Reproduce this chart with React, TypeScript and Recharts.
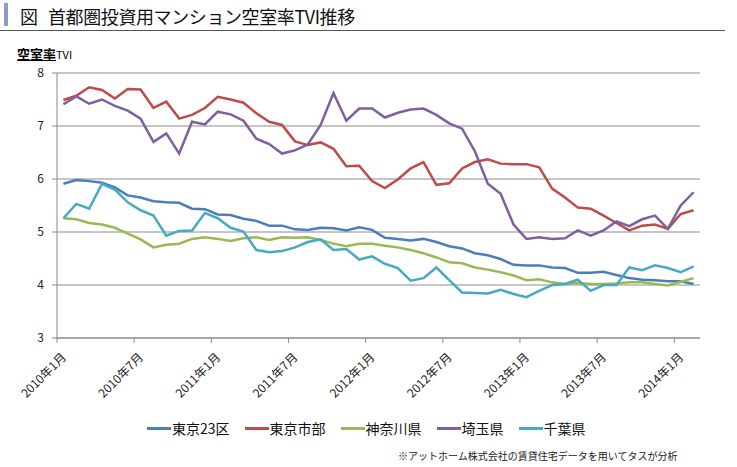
import React from 'react';
import { LineChart, Line, XAxis, YAxis, CartesianGrid } from 'recharts';

const months: string[] = [
  '2010年1月', '2010年2月', '2010年3月', '2010年4月', '2010年5月', '2010年6月',
  '2010年7月', '2010年8月', '2010年9月', '2010年10月', '2010年11月', '2010年12月',
  '2011年1月', '2011年2月', '2011年3月', '2011年4月', '2011年5月', '2011年6月',
  '2011年7月', '2011年8月', '2011年9月', '2011年10月', '2011年11月', '2011年12月',
  '2012年1月', '2012年2月', '2012年3月', '2012年4月', '2012年5月', '2012年6月',
  '2012年7月', '2012年8月', '2012年9月', '2012年10月', '2012年11月', '2012年12月',
  '2013年1月', '2013年2月', '2013年3月', '2013年4月', '2013年5月', '2013年6月',
  '2013年7月', '2013年8月', '2013年9月', '2013年10月', '2013年11月', '2013年12月',
  '2014年1月', '2014年2月',
];

const tickLabels: string[] = [
  '2010年1月', '2010年7月', '2011年1月', '2011年7月', '2012年1月',
  '2012年7月', '2013年1月', '2013年7月', '2014年1月',
];

const yTicks: number[] = [3, 4, 5, 6, 7, 8];

const tokyo23: number[] = [
  5.91, 5.98, 5.96, 5.93, 5.84, 5.69, 5.65, 5.58, 5.56, 5.55, 5.44, 5.43,
  5.33, 5.32, 5.25, 5.21, 5.12, 5.12, 5.05, 5.04, 5.08, 5.07, 5.03, 5.09,
  5.04, 4.89, 4.87, 4.84, 4.87, 4.81, 4.73, 4.69, 4.60, 4.56, 4.49, 4.38,
  4.37, 4.37, 4.33, 4.32, 4.23, 4.23, 4.25, 4.19, 4.13, 4.10, 4.09, 4.07,
  4.07, 4.02,
];

const tokyoShibu: number[] = [
  7.49, 7.57, 7.73, 7.68, 7.52, 7.70, 7.69, 7.34, 7.46, 7.14, 7.21, 7.34,
  7.55, 7.50, 7.44, 7.24, 7.08, 7.02, 6.71, 6.64, 6.69, 6.57, 6.24, 6.25,
  5.96, 5.83, 5.99, 6.20, 6.32, 5.89, 5.92, 6.20, 6.32, 6.37, 6.29, 6.28,
  6.28, 6.22, 5.82, 5.65, 5.46, 5.44, 5.31, 5.17, 5.03, 5.12, 5.14, 5.06,
  5.34, 5.41,
];

const kanagawa: number[] = [
  5.26, 5.24, 5.17, 5.14, 5.08, 4.97, 4.86, 4.71, 4.76, 4.78, 4.87, 4.90,
  4.87, 4.83, 4.88, 4.90, 4.85, 4.90, 4.89, 4.90, 4.85, 4.78, 4.73, 4.78,
  4.78, 4.74, 4.71, 4.66, 4.60, 4.52, 4.43, 4.41, 4.33, 4.29, 4.24, 4.18,
  4.09, 4.11, 4.05, 4.02, 4.04, 4.02, 4.02, 4.03, 4.05, 4.05, 4.02, 3.99,
  4.06, 4.13,
];

const saitama: number[] = [
  7.41, 7.56, 7.42, 7.50, 7.38, 7.29, 7.14, 6.70, 6.86, 6.48, 7.08, 7.03,
  7.27, 7.22, 7.10, 6.76, 6.66, 6.48, 6.54, 6.65, 7.02, 7.62, 7.10, 7.33,
  7.33, 7.16, 7.25, 7.31, 7.33, 7.21, 7.05, 6.95, 6.52, 5.91, 5.72, 5.14,
  4.87, 4.90, 4.87, 4.88, 5.03, 4.93, 5.03, 5.20, 5.11, 5.24, 5.31, 5.06,
  5.50, 5.75,
];

const chiba: number[] = [
  5.26, 5.53, 5.44, 5.91, 5.80, 5.56, 5.41, 5.31, 4.93, 5.02, 5.03, 5.36,
  5.26, 5.08, 5.01, 4.66, 4.62, 4.64, 4.71, 4.81, 4.86, 4.66, 4.68, 4.48,
  4.54, 4.40, 4.32, 4.08, 4.13, 4.33, 4.09, 3.86, 3.85, 3.84, 3.91, 3.83,
  3.77, 3.89, 4.00, 4.02, 4.10, 3.89, 4.00, 4.00, 4.33, 4.28, 4.37, 4.32,
  4.24, 4.35,
];

const series = [
  { key: 'tokyo23', name: '東京23区', color: '#4A7EBB', values: tokyo23 },
  { key: 'tokyoShibu', name: '東京市部', color: '#BE4B48', values: tokyoShibu },
  { key: 'kanagawa', name: '神奈川県', color: '#98B954', values: kanagawa },
  { key: 'saitama', name: '埼玉県', color: '#7D60A0', values: saitama },
  { key: 'chiba', name: '千葉県', color: '#46AAC5', values: chiba },
];

const data = months.map((m, i) => {
  const row: Record<string, string | number> = { month: m };
  series.forEach((s) => {
    row[s.key] = s.values[i];
  });
  return row;
});

const FONT = "'Noto Sans CJK JP', 'Noto Sans', sans-serif";
const HALF_STEP = 643 / months.length / 2;

const XTick = (props: any) => {
  const { x, y, payload } = props;
  const tx = x + 3.5;
  const ty = y + 15;
  return (
    <g>
      <line x1={x - HALF_STEP} y1={y - 5} x2={x - HALF_STEP} y2={y} stroke="#888888" strokeWidth={1} />
      <text
        x={tx}
        y={ty}
        transform={`rotate(-45, ${tx}, ${ty})`}
        textAnchor="end"
        fontSize={12}
        fill="#222222"
        fontFamily={FONT}
      >
        {payload.value}
      </text>
    </g>
  );
};

export default function App() {
  return (
    <div
      style={{
        position: 'fixed',
        left: 0,
        top: 0,
        width: 737,
        height: 467,
        background: '#ffffff',
        fontFamily: FONT,
        color: '#222',
        overflow: 'hidden',
      }}
    >
      <div style={{ position: 'absolute', left: 4, top: 3, width: 4, height: 23, background: '#8c9cc8' }} />
      <div
        style={{
          position: 'absolute',
          left: 20,
          top: 5,
          fontSize: 18,
          lineHeight: '22px',
          whiteSpace: 'nowrap',
          color: '#111',
        }}
      >
        <span>図</span>
        <span style={{ marginLeft: 10, letterSpacing: -0.4 }}>首都圏投資用マンション空室率TVI推移</span>
      </div>
      <div style={{ position: 'absolute', left: 0, top: 30, width: 725, height: 1, background: '#555' }} />
      <div style={{ position: 'absolute', left: 17, top: 44, lineHeight: '16px', whiteSpace: 'nowrap', color: '#000' }}>
        <span style={{ fontSize: 13, fontWeight: 700, textDecoration: 'underline' }}>空室率</span>
        <span style={{ fontSize: 11 }}>TVI</span>
      </div>

      <div style={{ position: 'absolute', left: 0, top: 0 }}>
        <LineChart
          width={737}
          height={467}
          data={data}
          margin={{ top: 73, right: 37, bottom: 69, left: 7 }}
        >
          <CartesianGrid vertical={false} stroke="#8c8c8c" strokeWidth={1} />
          <XAxis
            dataKey="month"
            ticks={tickLabels}
            interval={0}
            height={60}
            padding={{ left: HALF_STEP, right: HALF_STEP }}
            axisLine={{ stroke: '#888888' }}
            tickLine={false}
            tickSize={5}
            tickMargin={0}
            tick={<XTick />}
          />
          <YAxis
            domain={[3, 8]}
            ticks={yTicks}
            interval={0}
            width={50}
            axisLine={{ stroke: '#888888' }}
            tickLine={{ stroke: '#888888' }}
            tickSize={5}
            tickMargin={8}
            tick={{ fontSize: 12, fill: '#222222', fontFamily: FONT }}
          />
          {series.map((s) => (
            <Line
              key={s.key}
              type="linear"
              dataKey={s.key}
              name={s.name}
              stroke={s.color}
              strokeWidth={2.5}
              dot={false}
              activeDot={false}
              isAnimationActive={false}
            />
          ))}
        </LineChart>
      </div>

      <div
        style={{
          position: 'absolute',
          left: 147,
          top: 420,
          display: 'flex',
          alignItems: 'center',
          whiteSpace: 'nowrap',
          fontSize: 14,
          lineHeight: '16px',
          color: '#111',
        }}
      >
        {series.map((s) => (
          <div key={s.key} style={{ display: 'flex', alignItems: 'center', marginRight: 15 }}>
            <span style={{ display: 'inline-block', width: 24, height: 3, background: s.color, marginRight: 1 }} />
            <span>{s.name}</span>
          </div>
        ))}
      </div>

      <div
        style={{
          position: 'absolute',
          left: 398,
          top: 450,
          fontSize: 10,
          lineHeight: '12px',
          whiteSpace: 'nowrap',
          color: '#222',
        }}
      >
        ※アットホーム株式会社の賃貸住宅データを用いてタスが分析
      </div>
    </div>
  );
}
